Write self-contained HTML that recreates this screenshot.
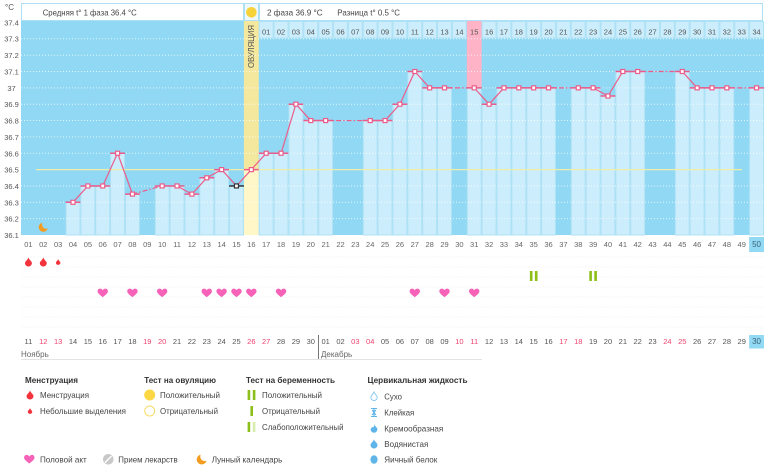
<!DOCTYPE html>
<html><head><meta charset="utf-8"><style>
html,body{margin:0;padding:0;background:#fff;}
svg{display:block;font-family:"Liberation Sans","DejaVu Sans",sans-serif;}
</style></head><body>
<svg width="770" height="465" viewBox="0 0 770 465" xmlns="http://www.w3.org/2000/svg">
<defs>
<rect id="mk" x="-2" y="-2" width="4" height="4" fill="#fff" stroke="#ec5c8a" stroke-width="1.2"/>
<path id="heart" d="M0,4.2 C-2,2.5 -5.2,0.5 -5.2,-1.6 C-5.2,-3.6 -3.8,-4.4 -2.6,-4.4 C-1.4,-4.4 -0.5,-3.6 0,-2.7 C0.5,-3.6 1.4,-4.4 2.6,-4.4 C3.8,-4.4 5.2,-3.6 5.2,-1.6 C5.2,0.5 2,2.5 0,4.2 Z" fill="#f562b8"/>
<path id="drop" d="M0,-4.5 C1,-1.8 3.5,-0.5 3.5,1 A3.5,3.5 0 0 1 -3.5,1 C-3.5,-0.5 -1,-1.8 0,-4.5 Z"/>
</defs>

<!-- header -->
<text x="5" y="10" font-size="8" fill="#555">°C</text>
<rect x="21.5" y="3.5" width="222" height="17" fill="#fff" stroke="#ade0f4"/>
<rect x="244.5" y="3.5" width="14" height="17" fill="#eef9fe" stroke="#ade0f4"/>
<circle cx="251.4" cy="12.3" r="5.3" fill="#f8d23a"/>
<rect x="259.5" y="3.5" width="503" height="17" fill="#fff" stroke="#ade0f4"/>
<text x="42.7" y="15.5" font-size="8.5" fill="#444" textLength="94" lengthAdjust="spacingAndGlyphs">Средняя t° 1 фаза 36.4 °C</text>
<text x="267" y="15.5" font-size="8.5" fill="#444" textLength="55.7" lengthAdjust="spacingAndGlyphs">2 фаза 36.9 °C</text>
<text x="337.3" y="15.5" font-size="8.5" fill="#444" textLength="62.7" lengthAdjust="spacingAndGlyphs">Разница t° 0.5 °C</text>

<!-- plot background -->
<rect x="21" y="21" width="743" height="214" fill="#90d8f3"/>

<!-- pink column day 31 top -->
<rect x="466.8" y="21" width="14.86" height="66.85" fill="#ffb3c7"/>

<!-- ovulation band -->
<rect x="243.9" y="21" width="14.86" height="148.6" fill="#f4e89e"/>
<rect x="243.9" y="169.6" width="14.86" height="65.4" fill="#fff7c8"/>
<text transform="translate(254.2,46.5) rotate(-90)" text-anchor="middle" font-size="8" fill="#555" textLength="43" lengthAdjust="spacingAndGlyphs">ОВУЛЯЦИЯ</text>

<!-- bars -->
<g fill="#ccedfb" stroke="#b0e2f6" stroke-width="1">
<rect x="66.08" y="202.3" width="13.86" height="32.7"/>
<rect x="80.94" y="185.95" width="13.86" height="49.05"/>
<rect x="95.80" y="185.95" width="13.86" height="49.05"/>
<rect x="110.66" y="153.25" width="13.86" height="81.75"/>
<rect x="125.52" y="194.1" width="13.86" height="40.9"/>
<rect x="155.24" y="185.95" width="13.86" height="49.05"/>
<rect x="170.10" y="185.95" width="13.86" height="49.05"/>
<rect x="184.96" y="194.1" width="13.86" height="40.9"/>
<rect x="199.82" y="177.8" width="13.86" height="57.2"/>
<rect x="214.68" y="169.6" width="13.86" height="65.4"/>
<rect x="229.54" y="185.95" width="13.86" height="49.05"/>
<rect x="259.26" y="153.25" width="13.86" height="81.75"/>
<rect x="274.12" y="153.25" width="13.86" height="81.75"/>
<rect x="288.98" y="104.2" width="13.86" height="130.8"/>
<rect x="303.84" y="120.55" width="13.86" height="114.45"/>
<rect x="318.70" y="120.55" width="13.86" height="114.45"/>
<rect x="363.28" y="120.55" width="13.86" height="114.45"/>
<rect x="378.14" y="120.55" width="13.86" height="114.45"/>
<rect x="393.00" y="104.2" width="13.86" height="130.8"/>
<rect x="407.86" y="71.5" width="13.86" height="163.5"/>
<rect x="422.72" y="87.85" width="13.86" height="147.15"/>
<rect x="437.58" y="87.85" width="13.86" height="147.15"/>
<rect x="467.30" y="87.85" width="13.86" height="147.15"/>
<rect x="482.16" y="104.2" width="13.86" height="130.8"/>
<rect x="497.02" y="87.85" width="13.86" height="147.15"/>
<rect x="511.88" y="87.85" width="13.86" height="147.15"/>
<rect x="526.74" y="87.85" width="13.86" height="147.15"/>
<rect x="541.60" y="87.85" width="13.86" height="147.15"/>
<rect x="571.32" y="87.85" width="13.86" height="147.15"/>
<rect x="586.18" y="87.85" width="13.86" height="147.15"/>
<rect x="601.04" y="96.0" width="13.86" height="139.0"/>
<rect x="615.90" y="71.5" width="13.86" height="163.5"/>
<rect x="630.76" y="71.5" width="13.86" height="163.5"/>
<rect x="675.34" y="71.5" width="13.86" height="163.5"/>
<rect x="690.20" y="87.85" width="13.86" height="147.15"/>
<rect x="705.06" y="87.85" width="13.86" height="147.15"/>
<rect x="719.92" y="87.85" width="13.86" height="147.15"/>
<rect x="749.64" y="87.85" width="13.86" height="147.15"/>
</g>

<!-- phase 2 top cells -->
<g fill="#ccedfb" stroke="#b0e2f6" stroke-width="1">
<rect x="259.26" y="21.5" width="13.86" height="16.5"/><rect x="274.12" y="21.5" width="13.86" height="16.5"/><rect x="288.98" y="21.5" width="13.86" height="16.5"/><rect x="303.84" y="21.5" width="13.86" height="16.5"/><rect x="318.70" y="21.5" width="13.86" height="16.5"/><rect x="333.56" y="21.5" width="13.86" height="16.5"/><rect x="348.42" y="21.5" width="13.86" height="16.5"/><rect x="363.28" y="21.5" width="13.86" height="16.5"/><rect x="378.14" y="21.5" width="13.86" height="16.5"/><rect x="393.00" y="21.5" width="13.86" height="16.5"/><rect x="407.86" y="21.5" width="13.86" height="16.5"/><rect x="422.72" y="21.5" width="13.86" height="16.5"/><rect x="437.58" y="21.5" width="13.86" height="16.5"/><rect x="452.44" y="21.5" width="13.86" height="16.5"/><rect x="482.16" y="21.5" width="13.86" height="16.5"/><rect x="497.02" y="21.5" width="13.86" height="16.5"/><rect x="511.88" y="21.5" width="13.86" height="16.5"/><rect x="526.74" y="21.5" width="13.86" height="16.5"/><rect x="541.60" y="21.5" width="13.86" height="16.5"/><rect x="556.46" y="21.5" width="13.86" height="16.5"/><rect x="571.32" y="21.5" width="13.86" height="16.5"/><rect x="586.18" y="21.5" width="13.86" height="16.5"/><rect x="601.04" y="21.5" width="13.86" height="16.5"/><rect x="615.90" y="21.5" width="13.86" height="16.5"/><rect x="630.76" y="21.5" width="13.86" height="16.5"/><rect x="645.62" y="21.5" width="13.86" height="16.5"/><rect x="660.48" y="21.5" width="13.86" height="16.5"/><rect x="675.34" y="21.5" width="13.86" height="16.5"/><rect x="690.20" y="21.5" width="13.86" height="16.5"/><rect x="705.06" y="21.5" width="13.86" height="16.5"/><rect x="719.92" y="21.5" width="13.86" height="16.5"/><rect x="734.78" y="21.5" width="13.86" height="16.5"/><rect x="749.64" y="21.5" width="13.86" height="16.5"/>
</g>
<g font-size="7.5" fill="#555" text-anchor="middle">
<text x="266.19" y="34.5">01</text><text x="281.05" y="34.5">02</text><text x="295.91" y="34.5">03</text><text x="310.77" y="34.5">04</text><text x="325.63" y="34.5">05</text><text x="340.49" y="34.5">06</text><text x="355.35" y="34.5">07</text><text x="370.21" y="34.5">08</text><text x="385.07" y="34.5">09</text><text x="399.93" y="34.5">10</text><text x="414.79" y="34.5">11</text><text x="429.65" y="34.5">12</text><text x="444.51" y="34.5">13</text><text x="459.37" y="34.5">14</text><text x="474.23" y="34.5">15</text><text x="489.09" y="34.5">16</text><text x="503.95" y="34.5">17</text><text x="518.81" y="34.5">18</text><text x="533.67" y="34.5">19</text><text x="548.53" y="34.5">20</text><text x="563.39" y="34.5">21</text><text x="578.25" y="34.5">22</text><text x="593.11" y="34.5">23</text><text x="607.97" y="34.5">24</text><text x="622.83" y="34.5">25</text><text x="637.69" y="34.5">26</text><text x="652.55" y="34.5">27</text><text x="667.41" y="34.5">28</text><text x="682.27" y="34.5">29</text><text x="697.13" y="34.5">30</text><text x="711.99" y="34.5">31</text><text x="726.85" y="34.5">32</text><text x="741.71" y="34.5">33</text><text x="756.57" y="34.5">34</text>
</g>

<!-- gridlines -->
<g stroke="#ffffff" stroke-opacity="0.75" stroke-width="1" stroke-dasharray="1,2">
<line x1="21" y1="38.7" x2="764" y2="38.7"/>
<line x1="21" y1="55.2" x2="764" y2="55.2"/>
<line x1="21" y1="71.5" x2="764" y2="71.5"/>
<line x1="21" y1="87.85" x2="764" y2="87.85"/>
<line x1="21" y1="104.2" x2="764" y2="104.2"/>
<line x1="21" y1="120.55" x2="764" y2="120.55"/>
<line x1="21" y1="136.9" x2="764" y2="136.9"/>
<line x1="21" y1="153.25" x2="764" y2="153.25"/>
<line x1="21" y1="185.95" x2="764" y2="185.95"/>
<line x1="21" y1="202.3" x2="764" y2="202.3"/>
<line x1="21" y1="218.65" x2="764" y2="218.65"/>
</g>
<!-- cover line -->
<line x1="36" y1="169.6" x2="742" y2="169.6" stroke="#f0eea6" stroke-width="1.3"/>

<!-- y axis labels -->
<g font-size="7.5" fill="#555" text-anchor="middle">
<text x="11.5" y="25.5">37.4</text><text x="11.5" y="41.7">37.3</text><text x="11.5" y="58.2">37.2</text><text x="11.5" y="74.5">37.1</text><text x="11.5" y="90.9">37</text><text x="11.5" y="107.2">36.9</text><text x="11.5" y="123.6">36.8</text><text x="11.5" y="139.9">36.7</text><text x="11.5" y="156.3">36.6</text><text x="11.5" y="172.6">36.5</text><text x="11.5" y="189">36.4</text><text x="11.5" y="205.3">36.3</text><text x="11.5" y="221.7">36.2</text><text x="11.5" y="238">36.1</text>
</g>

<!-- moon in plot -->
<circle cx="43.3" cy="227.3" r="4.6" fill="#f39c1f"/>
<circle cx="46.3" cy="224.6" r="4.2" fill="#90d8f3"/>

<!-- ticks -->
<path fill="none" stroke="#ec5c8a" stroke-width="1.5" d="M65.58,202.3h14.86 M80.44,185.95h14.86 M95.30,185.95h14.86 M110.16,153.25h14.86 M125.02,194.1h14.86 M154.74,185.95h14.86 M169.60,185.95h14.86 M184.46,194.1h14.86 M199.32,177.8h14.86 M214.18,169.6h14.86 M243.90,169.6h14.86 M258.76,153.25h14.86 M273.62,153.25h14.86 M288.48,104.2h14.86 M303.34,120.55h14.86 M318.20,120.55h14.86 M362.78,120.55h14.86 M377.64,120.55h14.86 M392.50,104.2h14.86 M407.36,71.5h14.86 M422.22,87.85h14.86 M437.08,87.85h14.86 M466.80,87.85h14.86 M481.66,104.2h14.86 M496.52,87.85h14.86 M511.38,87.85h14.86 M526.24,87.85h14.86 M541.10,87.85h14.86 M570.82,87.85h14.86 M585.68,87.85h14.86 M600.54,96.0h14.86 M615.40,71.5h14.86 M630.26,71.5h14.86 M674.84,71.5h14.86 M689.70,87.85h14.86 M704.56,87.85h14.86 M719.42,87.85h14.86 M749.14,87.85h14.86"/>
<path stroke="#333" stroke-width="1.5" d="M229.04,185.95h14.86"/>

<!-- line solid -->
<g fill="none" stroke="#ec5c8a" stroke-width="1.2">
<polyline points="73.01,202.3 87.87,185.95 102.73,185.95 117.59,153.25 132.45,194.1"/>
<polyline points="162.17,185.95 177.03,185.95 191.89,194.1 206.75,177.8 221.61,169.6 236.47,185.95 251.33,169.6 266.19,153.25 281.05,153.25 295.91,104.2 310.77,120.55 325.63,120.55"/>
<polyline points="370.21,120.55 385.07,120.55 399.93,104.2 414.79,71.5 429.65,87.85 444.51,87.85"/>
<polyline points="474.23,87.85 489.09,104.2 503.95,87.85 518.81,87.85 533.67,87.85 548.53,87.85"/>
<polyline points="578.25,87.85 593.11,87.85 607.97,96.0 622.83,71.5 637.69,71.5"/>
<polyline points="682.27,71.5 697.13,87.85 711.99,87.85 726.85,87.85"/>
</g>
<g fill="none" stroke="#ec5c8a" stroke-width="1.2" stroke-dasharray="5,2,1.5,2">
<line x1="132.45" y1="194.1" x2="162.17" y2="185.95"/>
<line x1="325.63" y1="120.55" x2="370.21" y2="120.55"/>
<line x1="444.51" y1="87.85" x2="474.23" y2="87.85"/>
<line x1="548.53" y1="87.85" x2="578.25" y2="87.85"/>
<line x1="637.69" y1="71.5" x2="682.27" y2="71.5"/>
<line x1="726.85" y1="87.85" x2="756.57" y2="87.85"/>
</g>

<!-- markers -->
<use href="#mk" x="73.01" y="202.3"/><use href="#mk" x="87.87" y="185.95"/><use href="#mk" x="102.73" y="185.95"/><use href="#mk" x="117.59" y="153.25"/><use href="#mk" x="132.45" y="194.1"/>
<use href="#mk" x="162.17" y="185.95"/><use href="#mk" x="177.03" y="185.95"/><use href="#mk" x="191.89" y="194.1"/><use href="#mk" x="206.75" y="177.8"/><use href="#mk" x="221.61" y="169.6"/>
<rect x="234.47" y="183.95" width="4" height="4" fill="#fff" stroke="#333" stroke-width="1.2"/>
<use href="#mk" x="251.33" y="169.6"/><use href="#mk" x="266.19" y="153.25"/><use href="#mk" x="281.05" y="153.25"/><use href="#mk" x="295.91" y="104.2"/><use href="#mk" x="310.77" y="120.55"/><use href="#mk" x="325.63" y="120.55"/>
<use href="#mk" x="370.21" y="120.55"/><use href="#mk" x="385.07" y="120.55"/><use href="#mk" x="399.93" y="104.2"/><use href="#mk" x="414.79" y="71.5"/><use href="#mk" x="429.65" y="87.85"/><use href="#mk" x="444.51" y="87.85"/>
<use href="#mk" x="474.23" y="87.85"/><use href="#mk" x="489.09" y="104.2"/><use href="#mk" x="503.95" y="87.85"/><use href="#mk" x="518.81" y="87.85"/><use href="#mk" x="533.67" y="87.85"/><use href="#mk" x="548.53" y="87.85"/>
<use href="#mk" x="578.25" y="87.85"/><use href="#mk" x="593.11" y="87.85"/><use href="#mk" x="607.97" y="96.0"/><use href="#mk" x="622.83" y="71.5"/><use href="#mk" x="637.69" y="71.5"/>
<use href="#mk" x="682.27" y="71.5"/><use href="#mk" x="697.13" y="87.85"/><use href="#mk" x="711.99" y="87.85"/><use href="#mk" x="726.85" y="87.85"/><use href="#mk" x="756.57" y="87.85"/>

<!-- bottom axis day numbers -->
<rect x="749.14" y="237" width="14.86" height="15" fill="#92d9f3"/>
<g font-size="7.5" fill="#666" text-anchor="middle">
<text x="28.43" y="247">01</text><text x="43.29" y="247">02</text><text x="58.15" y="247">03</text><text x="73.01" y="247">04</text><text x="87.87" y="247">05</text><text x="102.73" y="247">06</text><text x="117.59" y="247">07</text><text x="132.45" y="247">08</text><text x="147.31" y="247">09</text><text x="162.17" y="247">10</text><text x="177.03" y="247">11</text><text x="191.89" y="247">12</text><text x="206.75" y="247">13</text><text x="221.61" y="247">14</text><text x="236.47" y="247">15</text><text x="251.33" y="247">16</text><text x="266.19" y="247">17</text><text x="281.05" y="247">18</text><text x="295.91" y="247">19</text><text x="310.77" y="247">20</text><text x="325.63" y="247">21</text><text x="340.49" y="247">22</text><text x="355.35" y="247">23</text><text x="370.21" y="247">24</text><text x="385.07" y="247">25</text><text x="399.93" y="247">26</text><text x="414.79" y="247">27</text><text x="429.65" y="247">28</text><text x="444.51" y="247">29</text><text x="459.37" y="247">30</text><text x="474.23" y="247">31</text><text x="489.09" y="247">32</text><text x="503.95" y="247">33</text><text x="518.81" y="247">34</text><text x="533.67" y="247">35</text><text x="548.53" y="247">36</text><text x="563.39" y="247">37</text><text x="578.25" y="247">38</text><text x="593.11" y="247">39</text><text x="607.97" y="247">40</text><text x="622.83" y="247">41</text><text x="637.69" y="247">42</text><text x="652.55" y="247">43</text><text x="667.41" y="247">44</text><text x="682.27" y="247">45</text><text x="697.13" y="247">46</text><text x="711.99" y="247">47</text><text x="726.85" y="247">48</text><text x="741.71" y="247">49</text>
<text x="756.57" y="247" fill="#3d6478" font-size="8">50</text>
</g>

<!-- faint texture rows -->
<g stroke="#f7f7f7" stroke-width="1" stroke-dasharray="2,1">
<line x1="21" y1="257" x2="764" y2="257"/><line x1="21" y1="267" x2="764" y2="267"/><line x1="21" y1="277" x2="764" y2="277"/><line x1="21" y1="287" x2="764" y2="287"/><line x1="21" y1="297" x2="764" y2="297"/><line x1="21" y1="307" x2="764" y2="307"/><line x1="21" y1="317" x2="764" y2="317"/><line x1="21" y1="327" x2="764" y2="327"/>
</g>

<!-- menstruation drops -->
<use href="#drop" x="28.43" y="262" fill="#f2333c"/>
<use href="#drop" x="43.29" y="262" fill="#f2333c"/>
<use href="#drop" transform="translate(58.15,262) scale(0.65)" fill="#f2333c"/>

<!-- pregnancy tests -->
<g fill="#8cbf1a">
<rect x="529.9" y="271" width="2.6" height="10"/><rect x="534.9" y="271" width="2.6" height="10"/>
<rect x="589.3" y="271" width="2.6" height="10"/><rect x="594.3" y="271" width="2.6" height="10"/>
</g>

<!-- hearts -->
<use href="#heart" x="102.73" y="293"/><use href="#heart" x="132.45" y="293"/><use href="#heart" x="162.17" y="293"/><use href="#heart" x="206.75" y="293"/><use href="#heart" x="221.61" y="293"/><use href="#heart" x="236.47" y="293"/><use href="#heart" x="251.33" y="293"/><use href="#heart" x="281.05" y="293"/><use href="#heart" x="414.79" y="293"/><use href="#heart" x="444.51" y="293"/><use href="#heart" x="474.23" y="293"/>

<!-- dates -->
<rect x="749.14" y="335" width="14.86" height="13.5" fill="#92d9f3"/>
<g font-size="7.5" fill="#555" text-anchor="middle">
<text x="28.43" y="344">11</text><text x="43.29" y="344" fill="#f0426e">12</text><text x="58.15" y="344" fill="#f0426e">13</text><text x="73.01" y="344">14</text><text x="87.87" y="344">15</text><text x="102.73" y="344">16</text><text x="117.59" y="344">17</text><text x="132.45" y="344">18</text><text x="147.31" y="344" fill="#f0426e">19</text><text x="162.17" y="344" fill="#f0426e">20</text><text x="177.03" y="344">21</text><text x="191.89" y="344">22</text><text x="206.75" y="344">23</text><text x="221.61" y="344">24</text><text x="236.47" y="344">25</text><text x="251.33" y="344" fill="#f0426e">26</text><text x="266.19" y="344" fill="#f0426e">27</text><text x="281.05" y="344">28</text><text x="295.91" y="344">29</text><text x="310.77" y="344">30</text>
<text x="325.63" y="344">01</text><text x="340.49" y="344">02</text><text x="355.35" y="344" fill="#f0426e">03</text><text x="370.21" y="344" fill="#f0426e">04</text><text x="385.07" y="344">05</text><text x="399.93" y="344">06</text><text x="414.79" y="344">07</text><text x="429.65" y="344">08</text><text x="444.51" y="344">09</text><text x="459.37" y="344" fill="#f0426e">10</text><text x="474.23" y="344" fill="#f0426e">11</text><text x="489.09" y="344">12</text><text x="503.95" y="344">13</text><text x="518.81" y="344">14</text><text x="533.67" y="344">15</text><text x="548.53" y="344">16</text><text x="563.39" y="344" fill="#f0426e">17</text><text x="578.25" y="344" fill="#f0426e">18</text><text x="593.11" y="344">19</text><text x="607.97" y="344">20</text><text x="622.83" y="344">21</text><text x="637.69" y="344">22</text><text x="652.55" y="344">23</text><text x="667.41" y="344" fill="#f0426e">24</text><text x="682.27" y="344" fill="#f0426e">25</text><text x="697.13" y="344">26</text><text x="711.99" y="344">27</text><text x="726.85" y="344">28</text><text x="741.71" y="344">29</text>
<text x="756.57" y="344" fill="#3d6478" font-size="8">30</text>
</g>
<line x1="318.5" y1="335" x2="318.5" y2="359" stroke="#777" stroke-width="1"/>
<line x1="21" y1="359.5" x2="482" y2="359.5" stroke="#e3e3e3" stroke-width="1"/>
<text x="21" y="357" font-size="8" fill="#666">Ноябрь</text>
<text x="321" y="357" font-size="8" fill="#666">Декабрь</text>

<!-- legend -->
<g font-size="8.5" font-weight="bold" fill="#333">
<text x="25" y="383" textLength="53" lengthAdjust="spacingAndGlyphs">Менструация</text>
<text x="144.3" y="383" textLength="71.7" lengthAdjust="spacingAndGlyphs">Тест на овуляцию</text>
<text x="246" y="383" textLength="89" lengthAdjust="spacingAndGlyphs">Тест на беременность</text>
<text x="367.5" y="383" textLength="100" lengthAdjust="spacingAndGlyphs">Цервикальная жидкость</text>
</g>
<g font-size="8.5" fill="#444">
<text x="40" y="398" textLength="49" lengthAdjust="spacingAndGlyphs">Менструация</text>
<text x="40" y="414" textLength="86" lengthAdjust="spacingAndGlyphs">Небольшие выделения</text>
<text x="160" y="398" textLength="60" lengthAdjust="spacingAndGlyphs">Положительный</text>
<text x="160" y="414" textLength="58" lengthAdjust="spacingAndGlyphs">Отрицательный</text>
<text x="262" y="398" textLength="60" lengthAdjust="spacingAndGlyphs">Положительный</text>
<text x="262" y="414" textLength="58" lengthAdjust="spacingAndGlyphs">Отрицательный</text>
<text x="262" y="430" textLength="81.5" lengthAdjust="spacingAndGlyphs">Слабоположительный</text>
<text x="384.3" y="399.7" textLength="17.7" lengthAdjust="spacingAndGlyphs">Сухо</text>
<text x="384.3" y="415.7" textLength="30" lengthAdjust="spacingAndGlyphs">Клейкая</text>
<text x="384.3" y="431.3" textLength="59" lengthAdjust="spacingAndGlyphs">Кремообразная</text>
<text x="384.3" y="447" textLength="44" lengthAdjust="spacingAndGlyphs">Водянистая</text>
<text x="384.3" y="462.3" textLength="53" lengthAdjust="spacingAndGlyphs">Яичный белок</text>
<text x="40" y="462.3" textLength="46.7" lengthAdjust="spacingAndGlyphs">Половой акт</text>
<text x="118.3" y="462.3" textLength="59.4" lengthAdjust="spacingAndGlyphs">Прием лекарств</text>
<text x="211.7" y="462.3" textLength="70.6" lengthAdjust="spacingAndGlyphs">Лунный календарь</text>
</g>

<!-- legend icons -->
<use href="#drop" x="30" y="395" fill="#f2333c"/>
<use href="#drop" transform="translate(30,411) scale(0.65)" fill="#f2333c"/>
<circle cx="149.7" cy="395" r="5.5" fill="#fbd743"/>
<circle cx="149.7" cy="411" r="5" fill="none" stroke="#f7dd6a" stroke-width="1"/>
<rect x="247.6" y="390" width="2.6" height="10" fill="#8cbf1a"/><rect x="252.8" y="390" width="2.6" height="10" fill="#8cbf1a"/>
<rect x="250.4" y="406" width="2.6" height="10" fill="#8cbf1a"/>
<rect x="247.6" y="422" width="2.6" height="10" fill="#8cbf1a"/><rect x="252.8" y="422" width="2.6" height="10" fill="#d8ecae"/>
<!-- cervical -->
<path d="M374,392 C375,394.5 377.2,395.5 377.2,397.3 A3.2,3.2 0 0 1 370.8,397.3 C370.8,395.5 373,394.5 374,392 Z" fill="none" stroke="#7cc3ee" stroke-width="0.9"/>
<path d="M371,408.5 h6 M371,416.5 h6 M374,408.5 V416.5 M372.2,410 L374,412.5 L375.8,410 M372.2,415 L374,412.5 L375.8,415" fill="none" stroke="#5fb4e8" stroke-width="1.1"/>
<path d="M374,424 C375,426.5 377.4,427.5 377.4,429.3 A3.4,3.4 0 0 1 370.6,429.3 C370.6,428 372.5,427.5 373,426.5 C373.5,428 374.5,427 374,424 Z" fill="#5fb4e8"/>
<path d="M374,439.5 C375,442 377.5,443 377.5,445 A3.5,3.5 0 0 1 370.5,445 C370.5,443 373,442 374,439.5 Z" fill="#5fb4e8"/>
<ellipse cx="374" cy="459.5" rx="3.6" ry="4.3" fill="#5fb4e8"/>
<use href="#heart" x="29.3" y="459.3"/>
<circle cx="108.3" cy="459.3" r="5.3" fill="#c8c8c8"/>
<line x1="105" y1="462.6" x2="111.6" y2="456" stroke="#fff" stroke-width="1.4"/>
<circle cx="201.7" cy="459.5" r="5" fill="#f39c1f"/>
<circle cx="204.8" cy="456.6" r="4.5" fill="#fff"/>
</svg>
</body></html>
